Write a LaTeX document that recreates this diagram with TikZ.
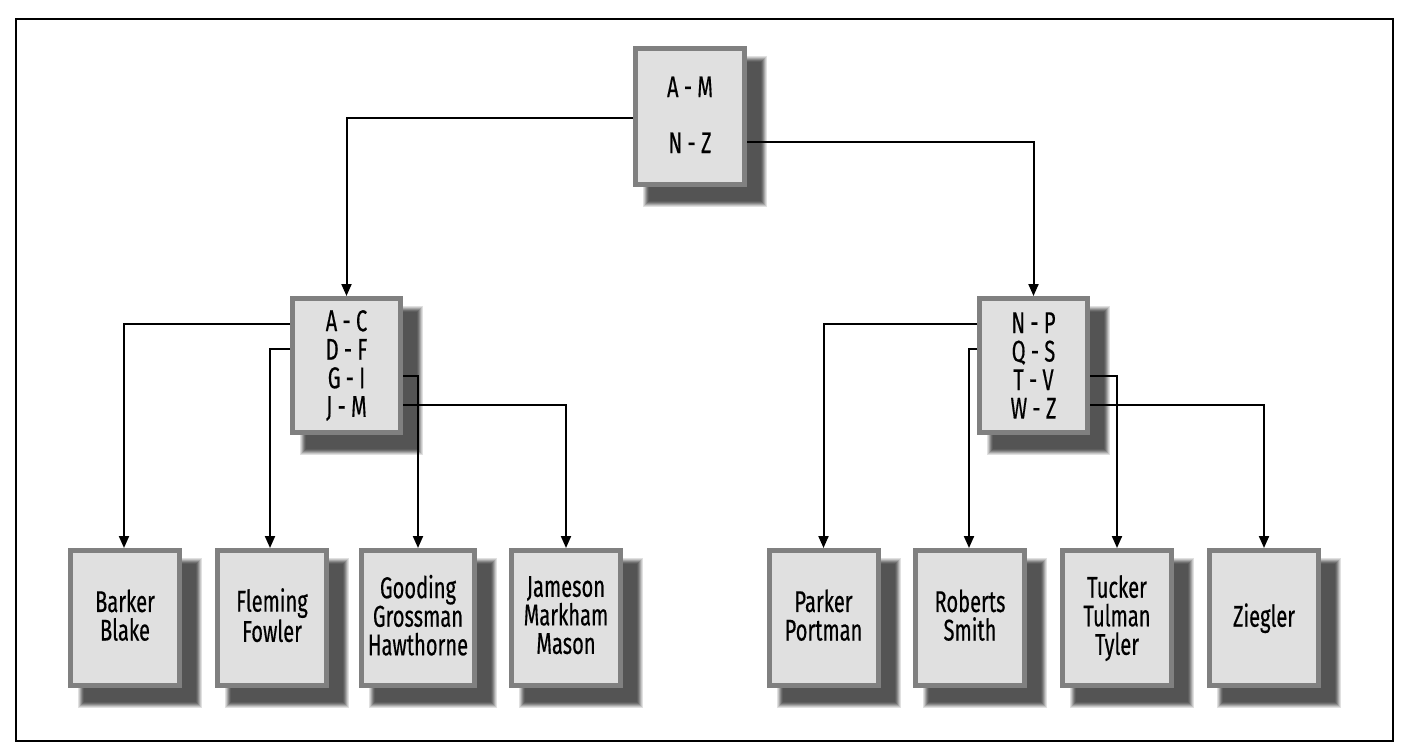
\documentclass[tikz,border=0pt]{standalone}
\usepackage{fontspec}
\setmainfont[FakeStretch=0.67,FakeBold=0.4]{Fira Sans}
\usetikzlibrary{arrows.meta,calc}
\pgfdeclarelayer{background}
\pgfsetlayers{background,main}
\definecolor{boxfill}{RGB}{224,224,224}
\definecolor{boxedge}{RGB}{128,128,128}
\tikzset{
  box/.style={draw=boxedge, fill=boxfill, line width=3.75pt, align=center,
    inner sep=0pt, font=\fontsize{22.5}{21.4}\selectfont,
    minimum width=81.75pt, minimum height=101.25pt},
  leaf/.style={box, text depth=4.5pt},
  conn/.style={line width=1.5pt, -{Triangle[length=9pt,width=7.5pt]}},
}
\newcommand\dropshadow[1]{%
  \foreach \e/\g in {5/12,4/22,3/34,2/46,1/56,0/63,-1/67}{%
    \fill[black!\g] ($(#1.north west)+(15-\e,15-\e)$) rectangle ($(#1.south east)+(15+\e,15+\e)$);
  }}
\begin{document}
\begin{tikzpicture}[x=0.75pt,y=-0.75pt]
\useasboundingbox (0,0) rectangle (1410,754);
\draw[line width=1.1pt] (16,19) rectangle (1393,741);

\node[box, minimum height=102pt, text depth=2.5pt] (root) at (690,116.5) {A - M\\[20.6pt]N - Z};
\node[box, minimum width=81pt, minimum height=100.5pt] (midL) at (346.5,365.5) {A - C\\D - F\\G - I\\J - M};
\node[box, minimum width=81pt, minimum height=100.5pt] (midR) at (1033.5,365.5) {N - P\\Q - S\\T - V\\W - Z};

\node[leaf] (barker) at (125,618) {Barker\\Blake};
\node[leaf] (fleming) at (272,618) {Fleming\\Fowler};
\node[leaf, minimum width=84.75pt] (gooding) at (418,618) {Gooding\\Grossman\\Hawthorne};
\node[leaf] (jameson) at (566,618) {Jameson\\Markham\\Mason};
\node[leaf] (parker) at (823.5,618) {Parker\\Portman};
\node[leaf] (roberts) at (970,618) {Roberts\\Smith};
\node[leaf] (tucker) at (1117,618) {Tucker\\Tulman\\Tyler};
\node[leaf] (ziegler) at (1264,618) {Ziegler};

\begin{pgfonlayer}{background}
\foreach \n in {root,midL,midR,barker,fleming,gooding,jameson,parker,roberts,tucker,ziegler}{\dropshadow{\n}}
\end{pgfonlayer}

\draw[conn] ($(root.west)+(0,1.5)$) -| (midL.north);
\draw[conn] ($(root.east)+(0,25.5)$) -| (midR.north);

\draw[conn] ($(midL.west)+(0,-41.5)$) -| ([xshift=-0.75pt]barker.north);
\draw[conn] ($(midL.west)+(0,-16.5)$) -| ([xshift=-1.5pt]fleming.north);
\draw[conn] ($(midL.east)+(0,10.5)$) -| (gooding.north);
\draw[conn] ($(midL.east)+(0,39.5)$) -| (jameson.north);

\draw[conn] ($(midR.west)+(0,-41.5)$) -| (parker.north);
\draw[conn] ($(midR.west)+(0,-16.5)$) -| ([xshift=-0.75pt]roberts.north);
\draw[conn] ($(midR.east)+(0,10.5)$) -| (tucker.north);
\draw[conn] ($(midR.east)+(0,39.5)$) -| (ziegler.north);
\end{tikzpicture}
\end{document}
